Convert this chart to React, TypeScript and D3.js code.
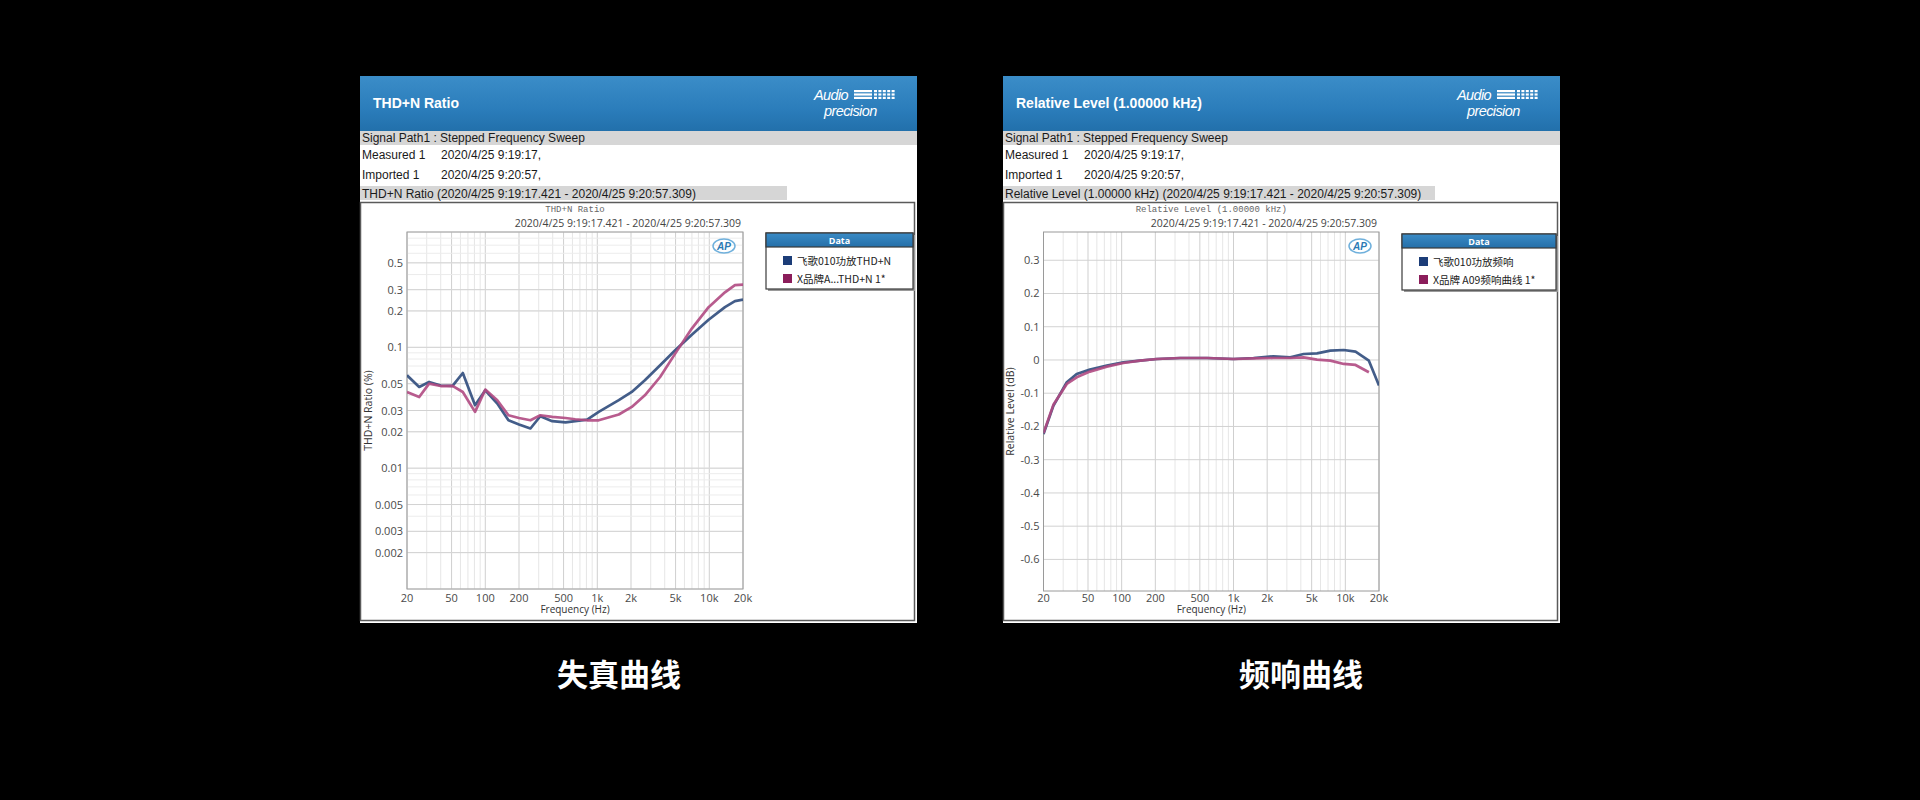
import React from 'react';
import * as d3 from 'd3';

// ---------- data ----------
const xTicks = [20, 50, 100, 200, 500, 1000, 2000, 5000, 10000, 20000];
const xTickLabels = ['20', '50', '100', '200', '500', '1k', '2k', '5k', '10k', '20k'];

const thdYTicks = [0.5, 0.3, 0.2, 0.1, 0.05, 0.03, 0.02, 0.01, 0.005, 0.003, 0.002];
const thdYTickLabels = ['0.5', '0.3', '0.2', '0.1', '0.05', '0.03', '0.02', '0.01', '0.005', '0.003', '0.002'];

const frYTicks = [0.3, 0.2, 0.1, 0, -0.1, -0.2, -0.3, -0.4, -0.5, -0.6];
const frYTickLabels = ['0.3', '0.2', '0.1', '0', '-0.1', '-0.2', '-0.3', '-0.4', '-0.5', '-0.6'];

const thdFreqs = [20, 25.7, 31.5, 40, 51, 63, 81, 100, 128, 161, 200, 253, 310, 396, 521, 636, 812, 1030, 1556, 2032, 2660, 3640, 4960, 6980, 9860, 13800, 16940, 20000];
const thdFeige = [0.0587, 0.047, 0.0517, 0.0483, 0.048, 0.0613, 0.0332, 0.0441, 0.0343, 0.0249, 0.023, 0.0213, 0.0269, 0.0245, 0.0239, 0.0245, 0.0252, 0.0292, 0.0365, 0.0427, 0.0534, 0.071, 0.0945, 0.127, 0.169, 0.215, 0.241, 0.248];
const thdBrandX = [0.0427, 0.0388, 0.0501, 0.0478, 0.048, 0.0427, 0.0292, 0.0447, 0.0365, 0.0274, 0.026, 0.0249, 0.0274, 0.0266, 0.026, 0.0254, 0.0249, 0.0249, 0.0278, 0.0321, 0.0401, 0.0568, 0.0887, 0.143, 0.215, 0.285, 0.327, 0.33];

const frFreqs = [20, 24.5, 32.3, 39.6, 52, 73.7, 103.6, 146, 206, 334, 581, 1000, 1510, 2270, 3220, 4230, 5580, 7340, 9680, 12340, 16240, 20000];
const frFeige = [-0.223, -0.138, -0.067, -0.042, -0.029, -0.017, -0.007, -0.002, 0.003, 0.006, 0.006, 0.003, 0.006, 0.011, 0.008, 0.018, 0.02, 0.028, 0.03, 0.025, -0.002, -0.077];
const frBrandX = [-0.22, -0.135, -0.072, -0.052, -0.035, -0.02, -0.009, -0.002, 0.003, 0.006, 0.006, 0.003, 0.005, 0.006, 0.006, 0.008, 0.001, -0.002, -0.012, -0.015, -0.037];

const legendThd = ['飞歌010功放THD+N', 'X品牌A...THD+N  1*'];
const legendFr = ['飞歌010功放频响', 'X品牌 A09频响曲线  1*'];

// ---------- styles ----------
const BLUE_LINE = '#2f4b7c';
const PINK_LINE = '#b04a82';
const BLUE_SQ = '#1c3d78';
const PINK_SQ = '#8b1d5b';
const SANS = '"Liberation Sans", Arial, sans-serif';
const UI = '"Open Sans", "DejaVu Sans", sans-serif';

function Panel(props: any) {
  const { x0, cfg } = props;
  const top = 76;
  const W = 557;
  const bottom = 623;
  const pl = x0 + cfg.plotL;
  const pr = x0 + cfg.plotR;
  const pt = 232;
  const pb = cfg.plotB;

  const xs = d3.scaleLog().domain([20, 20000]).range([pl, pr]);
  const ys: any = cfg.log
    ? d3.scaleLog().domain(cfg.yDomain).range([pb, pt])
    : d3.scaleLinear().domain(cfg.yDomain).range([pb, pt]);

  const xMinor = xs.ticks();
  const yMinor: number[] = cfg.log ? ys.ticks() : [];

  const line = d3
    .line<[number, number]>()
    .x((d) => xs(d[0]))
    .y((d) => ys(d[1]));

  const gid = 'hdr' + cfg.id;
  const lgid = 'lg' + cfg.id;
  const clip = 'clip' + cfg.id;

  const lx = x0 + cfg.legL;
  const lw = cfg.legW;
  const ly = cfg.legT;

  const logoX = x0 + 454;

  return (
    <g>
      <defs>
        <linearGradient id={gid} x1="0" y1="0" x2="0" y2="1">
          <stop offset="0" stopColor="#3b8dc8" />
          <stop offset="0.6" stopColor="#2b7dbb" />
          <stop offset="1" stopColor="#2270ab" />
        </linearGradient>
        <linearGradient id={lgid} x1="0" y1="0" x2="0" y2="1">
          <stop offset="0" stopColor="#3a8bc6" />
          <stop offset="1" stopColor="#256fa8" />
        </linearGradient>
        <clipPath id={clip}>
          <rect x={pl} y={pt} width={pr - pl} height={pb - pt} />
        </clipPath>
      </defs>
      {/* panel background */}
      <rect x={x0} y={top} width={W} height={bottom - top} fill="#ffffff" />
      {/* header */}
      <rect x={x0} y={top} width={W} height={55} fill={`url(#${gid})`} />
      <text x={x0 + 13} y={108} fill="#ffffff" fontFamily={SANS} fontWeight="bold" fontSize={14}>
        {cfg.header}
      </text>
      {/* logo */}
      <g fill="#ffffff" fontFamily={SANS} fontStyle="italic">
        <text x={logoX} y={100} fontSize={14.5} letterSpacing={-0.6}>Audio</text>
        <text x={logoX + 10} y={116} fontSize={14.5} letterSpacing={-0.6}>precision</text>
        {[0, 1, 2].map((i) => (
          <g key={i}>
            <rect x={logoX + 40} y={90 + i * 3.4} width={18} height={2.2} />
            {[0, 1, 2, 3, 4].map((j) => (
              <rect key={j} x={logoX + 60 + j * 4.4} y={90 + i * 3.4} width={3} height={2.2} />
            ))}
          </g>
        ))}
      </g>
      {/* info rows */}
      <rect x={x0} y={131} width={W} height={14} fill="#d6d6d6" />
      <text x={x0 + 2} y={142} fontFamily={SANS} fontSize={12} fill="#1a1a1a">Signal Path1 : Stepped Frequency Sweep</text>
      <text x={x0 + 2} y={159} fontFamily={SANS} fontSize={12} fill="#1a1a1a">Measured 1</text>
      <text x={x0 + 81} y={159} fontFamily={SANS} fontSize={12} fill="#1a1a1a">2020/4/25 9:19:17,</text>
      <text x={x0 + 2} y={179} fontFamily={SANS} fontSize={12} fill="#1a1a1a">Imported 1</text>
      <text x={x0 + 81} y={179} fontFamily={SANS} fontSize={12} fill="#1a1a1a">2020/4/25 9:20:57,</text>
      <rect x={x0} y={186} width={cfg.bar2W} height={14} fill="#d6d6d6" />
      <text x={x0 + 2} y={197.5} fontFamily={SANS} fontSize={12} fill="#1a1a1a">{cfg.bar2}</text>
      {/* frame */}
      <rect x={x0 + 0.5} y={202.5} width={W - 3} height={418} fill="#ffffff" stroke="#5a5a5a" strokeWidth={1.5} />
      {/* chart titles */}
      <text x={(pl + pr) / 2} y={212} textAnchor="middle" fontFamily={'"Liberation Mono", monospace'} fontSize={9} fill="#666">
        {cfg.chartTitle}
      </text>
      <text x={pr - 2} y={227} textAnchor="end" fontFamily={UI} fontSize={10.5} fill="#444">
        2020/4/25 9:19:17.421 - 2020/4/25 9:20:57.309
      </text>
      {/* grid */}
      <g>
        {xMinor.map((f: number, i: number) => (
          <line key={'xm' + i} x1={xs(f)} x2={xs(f)} y1={pt} y2={pb} stroke={xTicks.includes(f) ? '#cfcfcf' : '#e6e6e6'} strokeWidth={1} />
        ))}
        {yMinor.map((v: number, i: number) => (
          <line key={'ym' + i} x1={pl} x2={pr} y1={ys(v)} y2={ys(v)} stroke="#ececec" strokeWidth={1} />
        ))}
        {cfg.yTicks.map((v: number, i: number) => (
          <line key={'yM' + i} x1={pl} x2={pr} y1={ys(v)} y2={ys(v)} stroke="#d2d2d2" strokeWidth={1} />
        ))}
      </g>
      <rect x={pl} y={pt} width={pr - pl} height={pb - pt} fill="none" stroke="#9a9a9a" strokeWidth={1} />
      {/* AP mark */}
      <g transform={`translate(${pr - 19}, ${pt + 14})`}>
        <ellipse cx={0} cy={0} rx={11} ry={7} fill="none" stroke="#6fb0dc" strokeWidth={1.5} />
        <text x={0} y={3.5} textAnchor="middle" fontFamily={SANS} fontStyle="italic" fontWeight="bold" fontSize={10} fill="#2a7ab5">AP</text>
      </g>
      {/* series */}
      <g clipPath={`url(#${clip})`}>
        {cfg.series.map((s: any, i: number) => (
          <path
            key={i}
            d={line(s.values.map((v: number, k: number) => [cfg.freqs[k], v]) as any) || ''}
            fill="none"
            stroke={s.color}
            strokeWidth={2.7}
            strokeLinejoin="round"
            opacity={0.9}
          />
        ))}
      </g>
      {/* y ticks */}
      {cfg.yTicks.map((v: number, i: number) => (
        <text key={'yt' + i} x={pl - 4} y={ys(v) + 4} textAnchor="end" fontFamily={UI} fontSize={11} fill="#4a4a4a">
          {cfg.yTickLabels[i]}
        </text>
      ))}
      {/* x ticks */}
      {xTicks.map((f, i) => (
        <text key={'xt' + i} x={xs(f)} y={602} textAnchor="middle" fontFamily={UI} fontSize={11} fill="#4a4a4a">
          {xTickLabels[i]}
        </text>
      ))}
      <text x={(pl + pr) / 2} y={613} textAnchor="middle" fontFamily={UI} fontSize={10} fill="#333">Frequency (Hz)</text>
      <text
        transform={`translate(${x0 + cfg.yTitleX}, ${(pt + pb) / 2}) rotate(-90)`}
        textAnchor="middle"
        fontFamily={UI}
        fontSize={10.5}
        fill="#333"
      >
        {cfg.yTitle}
      </text>
      {/* legend */}
      <g>
        <rect x={lx + 2} y={ly + 2} width={lw} height={56} fill="#9a9a9a" />
        <rect x={lx} y={ly} width={lw} height={56} fill="#ffffff" stroke="#3a3a3a" strokeWidth={1.2} />
        <rect x={lx} y={ly} width={lw} height={14} fill={`url(#${lgid})`} stroke="#3a3a3a" strokeWidth={1.2} />
        <text x={lx + lw / 2} y={ly + 10.5} textAnchor="middle" fontFamily={UI} fontWeight="bold" fontSize={9} fill="#ffffff">Data</text>
        {cfg.legend.map((t: string, i: number) => (
          <g key={'lg' + i}>
            <rect x={lx + 17} y={ly + 23 + i * 18} width={9} height={9} fill={i === 0 ? BLUE_SQ : PINK_SQ} />
            <text x={lx + 31} y={ly + 31.5 + i * 18} fontFamily={'"Noto Sans CJK SC", sans-serif'} fontSize={10.5} fill="#222">
              {t}
            </text>
          </g>
        ))}
      </g>
    </g>
  );
}

export default function App() {
  const thdCfg = {
    id: 'a',
    header: 'THD+N Ratio',
    bar2: 'THD+N Ratio (2020/4/25 9:19:17.421 - 2020/4/25 9:20:57.309)',
    bar2W: 427,
    chartTitle: 'THD+N Ratio',
    plotL: 47,
    plotR: 383,
    plotB: 589,
    log: true,
    yDomain: [0.001, 0.9],
    yTicks: thdYTicks,
    yTickLabels: thdYTickLabels,
    yTitle: 'THD+N Ratio (%)',
    yTitleX: 12,
    legL: 406,
    legW: 147,
    legT: 233,
    legend: legendThd,
    freqs: thdFreqs,
    series: [
      { color: BLUE_LINE, values: thdFeige },
      { color: PINK_LINE, values: thdBrandX },
    ],
  };
  const frCfg = {
    id: 'b',
    header: 'Relative Level (1.00000 kHz)',
    bar2: 'Relative Level (1.00000 kHz) (2020/4/25 9:19:17.421 - 2020/4/25 9:20:57.309)',
    bar2W: 432,
    chartTitle: 'Relative Level (1.00000 kHz)',
    plotL: 40.5,
    plotR: 376,
    plotB: 591,
    log: false,
    yDomain: [-0.695, 0.385],
    yTicks: frYTicks,
    yTickLabels: frYTickLabels,
    yTitle: 'Relative Level (dB)',
    yTitleX: 11,
    legL: 399,
    legW: 154,
    legT: 234,
    legend: legendFr,
    freqs: frFreqs,
    series: [
      { color: BLUE_LINE, values: frFeige },
      { color: PINK_LINE, values: frBrandX },
    ],
  };
  return (
    <svg width={1920} height={800} style={{ position: 'absolute', left: 0, top: 0, display: 'block' }}>
      <rect x={0} y={0} width={1920} height={800} fill="#000000" />
      <Panel x0={360} cfg={thdCfg} />
      <Panel x0={1003} cfg={frCfg} />
      <text x={619} y={686} textAnchor="middle" fontFamily={'"Noto Sans CJK SC", sans-serif'} fontWeight="bold" fontSize={31} fill="#ffffff">
        失真曲线
      </text>
      <text x={1301} y={686} textAnchor="middle" fontFamily={'"Noto Sans CJK SC", sans-serif'} fontWeight="bold" fontSize={31} fill="#ffffff">
        频响曲线
      </text>
    </svg>
  );
}
